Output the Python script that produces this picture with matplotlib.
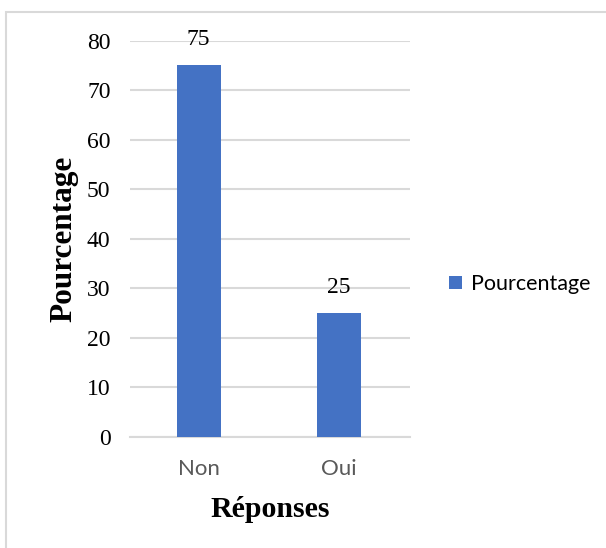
import matplotlib.pyplot as plt
from matplotlib.patches import Rectangle

reponses = ['Non', 'Oui']
pourcentage = [75, 25]
y_ticks = [0, 10, 20, 30, 40, 50, 60, 70, 80]

bar_color = '#4472C4'
grid_color = '#D9D9D9'

fig = plt.figure(figsize=(6.06, 5.48), dpi=100)
fig.patch.set_facecolor('white')

# chart frame (cut off on the right and bottom)
fig.patches.append(Rectangle((6 / 606, -0.05), 1.05, 1 - 12 / 548 + 0.05,
                             transform=fig.transFigure, fill=False,
                             edgecolor=grid_color, linewidth=1.5))

ax = fig.add_axes([130 / 606, (548 - 436.7) / 548, 280 / 606, 396 / 548])

x = range(len(reponses))
bars = ax.bar(x, pourcentage, width=0.315, color=bar_color,
              label='Pourcentage', zorder=3)

for xi, v in zip(x, pourcentage):
    ax.annotate(str(v), (xi, v), xytext=(0, 11), textcoords='offset points',
                ha='center', va='bottom', fontsize=17,
                family='Liberation Serif', color='black', zorder=4)

ax.set_xlim(-0.49, 1.51)
ax.set_ylim(0, 80)
ax.set_yticks(y_ticks)
ax.set_yticklabels([str(t) for t in y_ticks], family='Liberation Serif',
                   fontsize=17)
ax.set_xticks(list(x))
ax.set_xticklabels(reponses, family='Lato', fontsize=16, color='#595959')
ax.tick_params(axis='y', length=0, pad=14)
ax.tick_params(axis='x', length=0, pad=16)

ax.grid(axis='y', color=grid_color, linewidth=1.5, zorder=0)
for side in ['top', 'right', 'left']:
    ax.spines[side].set_visible(False)
ax.spines['bottom'].set_color(grid_color)
ax.spines['bottom'].set_linewidth(1.5)

ax.set_xlabel('Réponses', family='Liberation Serif', fontweight='bold',
              fontsize=21.5, labelpad=12)
ax.set_ylabel('Pourcentage', family='Liberation Serif', fontweight='bold',
              fontsize=22.5, labelpad=6)

ax.legend(loc='center left', bbox_to_anchor=(1.07, 0.385), frameon=False,
          prop={'family': 'Lato', 'size': 15.5}, handlelength=0.6,
          handleheight=0.6, handletextpad=0.4)

fig.savefig('out.png', dpi=100)
